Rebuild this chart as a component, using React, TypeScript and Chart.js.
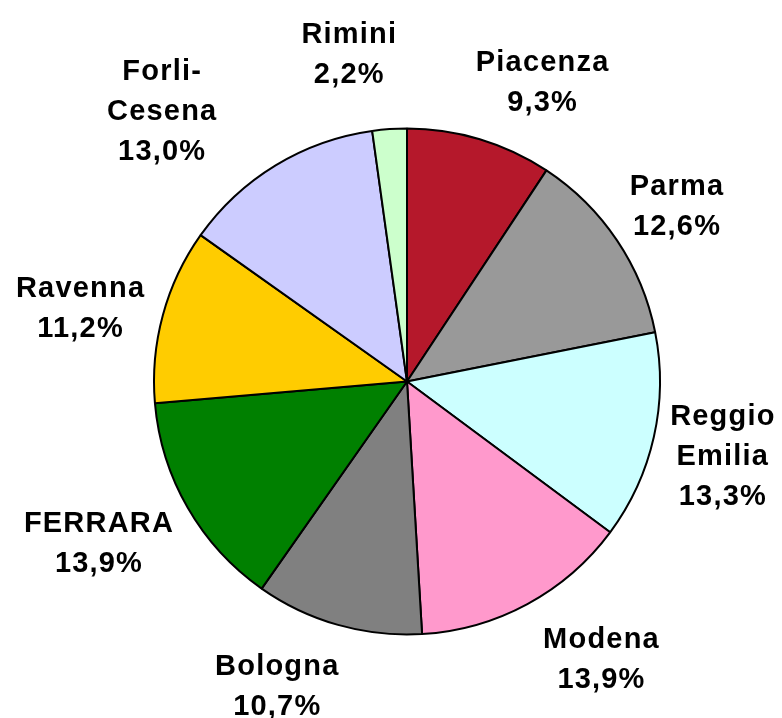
import React, { useEffect, useRef } from "react";
import { Chart, registerables } from "chart.js";

Chart.register(...registerables);

const categories: string[][] = [
  ["Piacenza"],
  ["Parma"],
  ["Reggio", "Emilia"],
  ["Modena"],
  ["Bologna"],
  ["FERRARA"],
  ["Ravenna"],
  ["Forli-", "Cesena"],
  ["Rimini"],
];
const shares: number[] = [9.3, 12.6, 13.3, 13.9, 10.7, 13.9, 11.2, 13.0, 2.2];
const sliceColors: string[] = [
  "#B5182B",
  "#999999",
  "#CCFFFF",
  "#FF99CC",
  "#808080",
  "#008000",
  "#FFCC00",
  "#CCCCFF",
  "#CCFFCC",
];
// small label nudges (px) relative to the default position on the slice bisector
const labelNudge: [number, number][] = [
  [41, 14],
  [-3, 6],
  [-5, 1],
  [38, -13],
  [-40, -13],
  [-23, -4],
  [-9, 11],
  [-74, 9],
  [-35, -1],
];

const FONT_SIZE = 29;
const LINE_H = 40;

const labelPlugin = {
  id: "outsideLabels",
  afterDatasetsDraw(chart: any) {
    const ctx = chart.ctx as CanvasRenderingContext2D;
    const meta = chart.getDatasetMeta(0);
    ctx.save();
    ctx.fillStyle = "#000000";
    ctx.font = `bold ${FONT_SIZE}px "Liberation Sans", Arial, sans-serif`;
    (ctx as any).letterSpacing = "1.2px";
    ctx.textAlign = "center";
    ctx.textBaseline = "alphabetic";
    meta.data.forEach((arc: any, i: number) => {
      const p = arc.getProps(["x", "y", "startAngle", "endAngle", "outerRadius"], true);
      const mid = (p.startAngle + p.endAngle) / 2;
      const r = p.outerRadius * 1.3;
      const cx = p.x + Math.cos(mid) * r + labelNudge[i][0];
      const cy = p.y + Math.sin(mid) * r + labelNudge[i][1];
      const val = shares[i].toFixed(1).replace(".", ",") + "%";
      const lines = [...categories[i], val];
      const n = lines.length;
      const cap = FONT_SIZE * 0.72;
      lines.forEach((t, k) => {
        const midY = cy + (k - (n - 1) / 2) * LINE_H;
        ctx.fillText(t, cx, midY + cap / 2);
      });
    });
    ctx.restore();
  },
};

export default function App() {
  const ref = useRef<HTMLCanvasElement | null>(null);
  useEffect(() => {
    if (!ref.current) return;
    const chart = new Chart(ref.current, {
      type: "pie",
      data: {
        labels: categories.map((c) => c.join(" ")),
        datasets: [
          {
            data: shares,
            backgroundColor: sliceColors,
            borderColor: "#000000",
            borderWidth: 2,
            borderAlign: "center",
          },
        ],
      },
      options: {
        responsive: false,
        animation: false,
        layout: { padding: { left: 153, right: 121, top: 127, bottom: 82 } },
        plugins: {
          legend: { display: false },
          tooltip: { enabled: false },
        },
      },
      plugins: [labelPlugin],
    });
    return () => chart.destroy();
  }, []);
  return (
    <div style={{ position: "absolute", left: 0, top: 0, width: 782, height: 718, background: "#ffffff" }}>
      <canvas ref={ref} width={782} height={718} style={{ display: "block" }} />
    </div>
  );
}
